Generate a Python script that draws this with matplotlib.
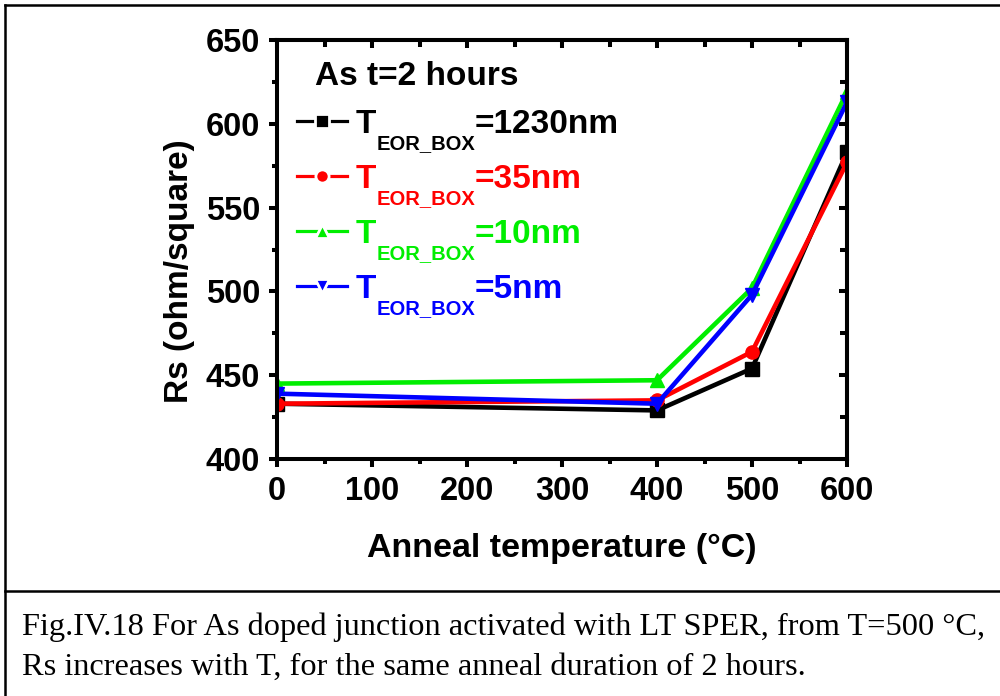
import matplotlib
matplotlib.use("Agg")
import matplotlib.pyplot as plt
from matplotlib.lines import Line2D

# Sheet resistance vs anneal temperature (2 h anneals)
temperature = [0, 400, 500, 600]
rs_1230nm = [433, 429, 454, 583]
rs_35nm = [433, 435, 464, 577]
rs_10nm = [445, 447, 502, 619]
rs_5nm = [439, 433, 498, 613]

series_labels = ["=1230nm", "=35nm", "=10nm", "=5nm"]
series_colors = ["#000000", "#ff0000", "#00ee00", "#0000ff"]
series_markers = ["s", "o", "^", "v"]

x_ticks = [0, 100, 200, 300, 400, 500, 600]
x_minor = [50, 150, 250, 350, 450, 550]
y_ticks = [400, 450, 500, 550, 600, 650]
y_minor = [425, 475, 525, 575, 625]

plt.rcParams["font.family"] = ["Liberation Sans", "DejaVu Sans"]
plt.rcParams["font.weight"] = "bold"

fig = plt.figure(figsize=(10, 6.96), dpi=100)
ax = fig.add_axes([0.277, 0.3405, 0.570, 0.602])

all_series = [rs_1230nm, rs_35nm, rs_10nm, rs_5nm]
handles = []
for vals, col, mk in zip(all_series, series_colors, series_markers):
    ax.plot(temperature, vals, color=col, lw=3.3, marker=mk, ms=9.5,
            mec=col, mfc=col)
    handles.append(Line2D([], [], color=col, lw=2.3, marker=mk, ms=9.5,
                          mec="white", mew=2.0, mfc=col))

ax.set_xlim(0, 600)
ax.set_ylim(400, 650)
ax.set_xticks(x_ticks)
ax.set_yticks(y_ticks)
ax.set_xticks(x_minor, minor=True)
ax.set_yticks(y_minor, minor=True)

for s in ax.spines.values():
    s.set_linewidth(2.9)

ax.tick_params(which="both", width=2.9, labelsize=23.5)
ax.tick_params(axis="x", which="major", direction="out", length=6, pad=6)
ax.tick_params(axis="x", which="minor", direction="out", length=3.5)
ax.tick_params(axis="y", which="major", direction="out", length=6, pad=6)
ax.tick_params(axis="y", which="minor", direction="out", length=3.5)

# Inward ticks on the top and right edges
ax_top = ax.secondary_xaxis("top")
ax_top.set_xticks(x_ticks)
ax_top.set_xticks(x_minor, minor=True)
ax_top.tick_params(which="both", direction="in", width=2.9, labeltop=False)
ax_top.tick_params(which="major", length=6)
ax_top.tick_params(which="minor", length=5)
ax_top.spines["top"].set_linewidth(2.9)
ax_right = ax.secondary_yaxis("right")
ax_right.set_yticks(y_ticks)
ax_right.set_yticks(y_minor, minor=True)
ax_right.tick_params(which="both", direction="in", width=2.9, labelright=False)
ax_right.tick_params(which="major", length=6)
ax_right.tick_params(which="minor", length=5)
ax_right.spines["right"].set_linewidth(2.9)

ax.set_xlabel("Anneal temperature (°C)", fontsize=24.5, fontweight="bold", labelpad=19)
ax.set_ylabel("Rs (ohm/square)", fontsize=24, fontweight="bold")
ax.yaxis.set_label_coords(-0.143, 0.4475)

# Legend: title, then "T" with an EOR_BOX subscript and the thickness value
ax.text(0.0667, 0.8926, "As t=2 hours", transform=ax.transAxes,
        fontsize=24, fontweight="bold", va="baseline", ha="left")
leg = ax.legend(handles, ["T"] * len(handles), loc="upper left",
                bbox_to_anchor=(0.035, 0.835), frameon=False, fontsize=24,
                handlelength=1.5, handletextpad=0.25, labelspacing=0.72,
                borderpad=0, borderaxespad=0)
for t, col, lab in zip(leg.get_texts(), series_colors, series_labels):
    t.set_color(col)
    sub = ax.annotate("EOR_BOX", xy=(1, 0), xycoords=t, xytext=(0.5, -6.5),
                      textcoords="offset points", fontsize=14.5, color=col,
                      fontweight="bold", va="baseline", ha="left", zorder=6)
    ax.annotate(lab, xy=(1, 0), xycoords=(sub, t), fontsize=24, color=col,
                fontweight="bold", va="bottom", ha="left", zorder=7)

# Page frame and caption
fig.add_artist(Line2D([0.005, 0.005], [0, 1 - 5 / 696], transform=fig.transFigure,
                      color="black", lw=1.8))
fig.add_artist(Line2D([0.005, 1], [1 - 5 / 696, 1 - 5 / 696], transform=fig.transFigure,
                      color="black", lw=1.8))
fig.add_artist(Line2D([0.005, 1], [1 - 591 / 696, 1 - 591 / 696], transform=fig.transFigure,
                      color="black", lw=1.8))
caption_lines = [
    "Fig.IV.18 For As doped junction activated with LT SPER, from T=500 °C,",
    "Rs increases with T, for the same anneal duration of 2 hours.",
]
for i, line in enumerate(caption_lines):
    fig.text(0.022, 1 - (635 + 40 * i) / 696, line, family="Liberation Serif",
             fontweight="normal", fontsize=23.3, va="baseline", ha="left")

fig.savefig("out.png", dpi=100)
